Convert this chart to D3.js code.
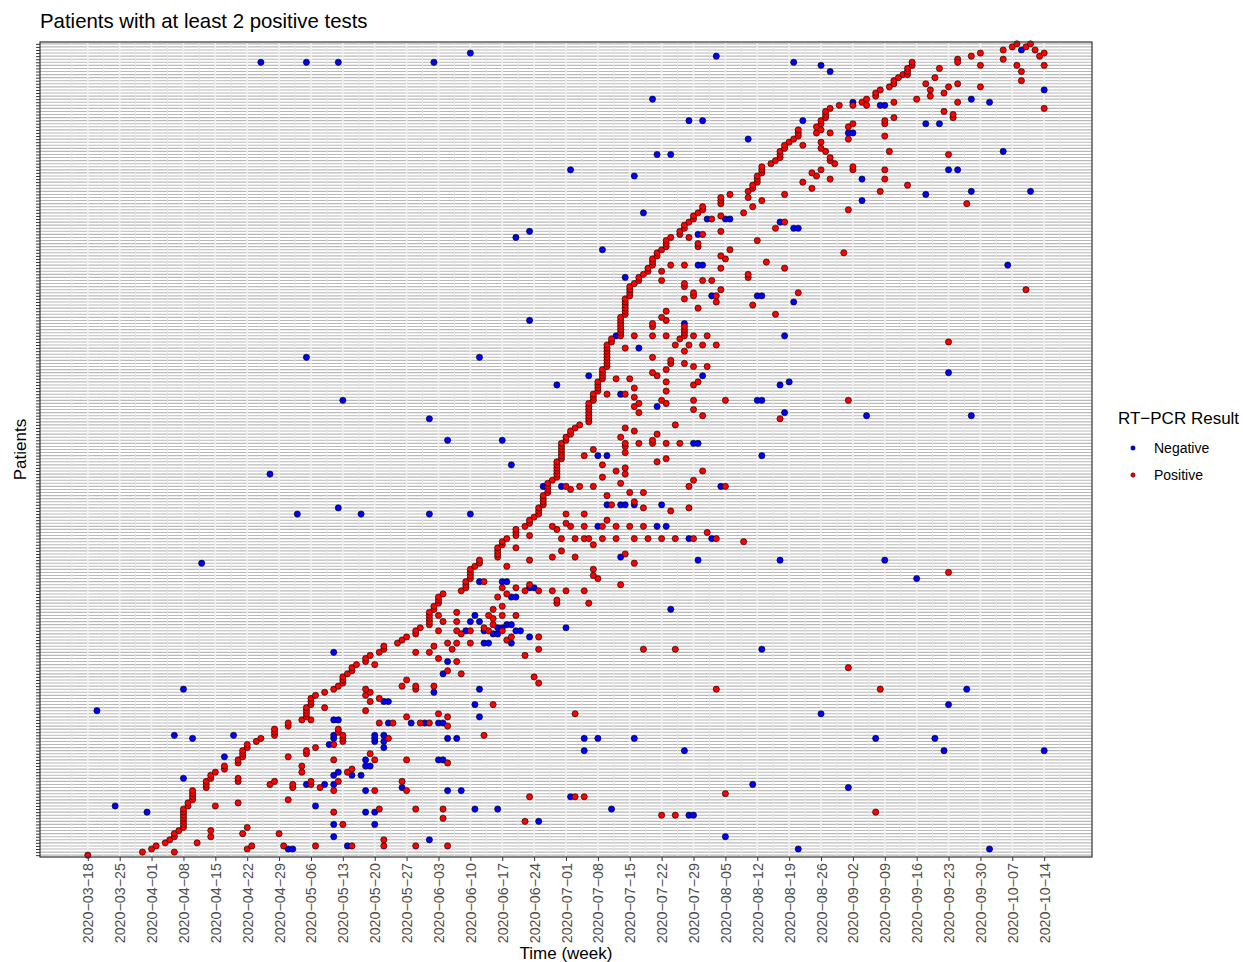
<!DOCTYPE html>
<html>
<head>
<meta charset="utf-8">
<script src="https://cdn.jsdelivr.net/npm/d3@7"></script>
<style>
  body { margin: 0; background: #fff; }
  text { font-family: "Liberation Sans", Arial, Helvetica, sans-serif; }
</style>
</head>
<body>
<div class="chart"></div>
<script>
// Data
// ==============================
// day offsets are counted from the first weekly tick (2020-03-18)
const startDate = "2020-03-18";
const weekTicks = ["2020-03-18", "2020-03-25", "2020-04-01", "2020-04-08", "2020-04-15", "2020-04-22",
  "2020-04-29", "2020-05-06", "2020-05-13", "2020-05-20", "2020-05-27", "2020-06-03", "2020-06-10",
  "2020-06-17", "2020-06-24", "2020-07-01", "2020-07-08", "2020-07-15", "2020-07-22", "2020-07-29",
  "2020-08-05", "2020-08-12", "2020-08-19", "2020-08-26", "2020-09-02", "2020-09-09", "2020-09-16",
  "2020-09-23", "2020-09-30", "2020-10-07", "2020-10-14"];
const patientCount = 265;
const resultLabels = ["Negative", "Positive"];

// [patient, day]
const positiveTests = [
  [0,0],[1,12],[1,19],[2,14],[2,35],[3,15],[3,36],[3,43],[3,50],[4,17],[4,24],[5,18],[6,19],[6,27],[7,19],[7,34],[7,42],[8,20],[8,27],[9,21],[9,35],[10,21],[11,21],[12,21],[13,21],[14,21],[14,54],[15,21],[16,22],[16,28],[17,22],[17,33],[18,23],[18,44],[19,23],[20,23],[21,23],[21,54],[22,26],[22,45],[22,51],[23,26],[23,40],[23,45],[23,49],[24,26],[24,33],[24,41],[24,49],[24,55],[25,27],[25,33],[26,27],[27,28],[27,47],[28,30],[29,30],[29,47],[30,33],[31,33],[31,54],[32,34],[32,44],[33,34],[33,48],[34,34],[34,48],[35,35],[35,50],[36,35],[36,54],[37,37],[38,38],[39,41],[40,41],[40,55],[41,41],[41,55],[42,44],[43,44],[44,47],[44,49],[45,48],[46,48],[47,48],[48,48],[48,52],[49,49],[50,49],[51,49],[52,50],[53,52],[54,54],[55,55],
  [3,58],[3,65],[3,72],[3,79],[5,65],[10,56],[11,96],[12,78],[15,64],[15,72],[15,78],[19,97],[19,107],[19,109],[21,63],[21,70],[24,69],[27,57],[28,58],[30,79],[31,63],[31,70],[33,62],[37,56],[38,56],[38,66],[39,56],[39,87],[42,79],[43,64],[43,67],[43,73],[43,75],[45,70],[45,79],[46,77],[46,107],[47,61],[49,89],[50,62],[51,64],[52,61],[53,62],[54,61],[54,72],[55,69],[55,72],[55,76],[56,56],[56,99],[57,56],[57,70],[58,56],[58,98],[59,57],[59,82],[60,58],[60,79],[61,58],[62,59],[62,63],[63,61],[63,81],[64,61],[64,77],[65,62],[65,96],[66,64],[66,72],[66,75],[67,65],[67,80],[67,99],[68,65],[68,76],[69,68],[69,79],[69,81],[69,84],[70,69],[70,92],[71,70],[71,93],[71,99],[72,72],[72,82],[73,72],[73,77],[73,81],[73,84],[73,88],[73,91],[74,73],[74,87],[75,75],[75,89],[76,75],[76,78],[76,81],[77,75],[77,89],[78,75],[78,77],[78,88],[78,91],[78,94],[79,75],[79,81],[80,76],[80,89],[81,76],[81,91],[82,77],[82,103],[82,110],[83,77],[83,103],[84,77],[84,90],[85,78],[85,92],[86,82],[86,96],[86,99],[86,102],[86,105],[86,109],[87,91],[87,94],
  [13,126],[13,129],[14,173],[20,140],[54,138],[54,174],[61,167],[67,122],[67,129],
  [87,83],[88,83],[89,83],[90,84],[91,84],[92,84],[93,84],[94,85],[95,86],[96,86],[97,90],[98,90],[99,90],[100,90],[101,91],[102,91],[103,92],[104,94],[105,94],[106,94],[107,96],[108,97],[109,97],[110,98],[111,99],[112,99],[113,99],[114,100],[115,100],[116,100],[117,100],[118,101],[119,101],[120,101],[121,101],[122,102],[123,103],[124,103],[125,103],[126,103],[127,103],[128,103],[129,104],[130,104],[131,104],[132,104],[133,104],[134,104],[135,105],[136,105],[137,106],[138,106],[139,107],[140,108],[141,110],[142,110],[143,110],[144,110],[145,110],[146,110],[147,110],[148,111],[149,111],[150,111],[151,112],[152,112],[153,112],[154,112],[155,113],[156,113],[157,113],[158,113],[159,114],[160,114],[161,114],[162,114],[163,114],[164,114],[165,114],[166,114],[167,115],[168,115],[169,117],[170,117],[171,117],[172,117],[173,117],[174,117],[175,117],
  [88,97],[88,117],[89,87],[90,112],[91,111],[93,111],[94,92],[95,120],[96,97],[97,102],[97,107],[98,118],[99,104],[100,94],[101,111],[103,104],[103,107],[103,109],[103,110],[103,113],[103,116],[103,120],[103,123],[103,126],[103,129],[103,133],[104,97],[106,103],[107,102],[107,106],[107,109],[107,113],[107,116],[107,119],[107,122],[108,105],[109,114],[111,105],[111,109],[112,128],[113,122],[113,132],[114,115],[115,120],[117,114],[118,119],[118,122],[119,106],[120,105],[120,108],[120,111],[120,132],[121,117],[122,133],[123,113],[124,118],[125,116],[126,118],[127,113],[128,125],[129,127],[130,109],[131,118],[132,111],[133,118],[134,118],[134,121],[134,124],[134,127],[134,130],[135,124],[136,117],[137,125],[138,120],[139,118],[140,129],[144,121],[145,133],[146,120],[147,121],[147,127],[148,126],[148,133],[149,120],[150,114],[150,118],[151,127],[152,120],[153,133],[154,127],[154,134],[155,116],[155,119],[156,125],[157,124],[158,127],[159,133],[160,128],[160,131],[161,128],[162,124],[164,131],[165,118],[166,129],[166,132],[168,130],[169,120],[169,124],[169,127],[169,131],[169,133],[170,131],[171,131],[172,124],[172,131],[173,124],[174,127],[175,126],
  [92,189],[102,144],[103,138],[105,136],[120,140],[125,135],[142,152],[143,135],[148,140],[148,167],[159,136],[166,135],[166,138],[167,189],[169,136],[176,151],
  [176,118],[177,118],[178,118],[179,118],[180,118],[181,118],[182,119],[183,119],[184,119],[185,119],[186,120],[187,121],[188,121],[189,122],[190,123],[191,123],[192,124],[193,124],[194,124],[195,125],[196,125],[197,126],[198,127],[199,127],[200,127],[201,128],[202,130],[203,130],[204,131],[205,131],[206,132],[207,133],[208,133],[209,134],[210,135],[211,135],[212,139],[213,139],[214,139],[215,141],[216,145],[217,146],[218,146],[219,147],[220,147],[221,147],[222,148],[223,148],[224,148],[225,150],[226,151],[227,152],[228,152],[229,152],[230,153],[231,153],[232,154],[233,155],[234,156],[235,156],[236,156],[237,160],[238,161],[239,161],[240,162],[241,162],[242,162],[243,163],[244,165],[245,170],[246,171],[247,173],[248,173],[249,174],
  [177,127],[178,134],[179,146],[180,138],[181,131],[182,133],[182,138],[183,133],[183,156],[184,139],[185,131],[186,131],[187,126],[187,135],[187,137],[188,145],[189,145],[190,126],[191,139],[191,153],[192,128],[192,131],[193,149],[194,140],[195,139],[196,166],[197,141],[198,134],[199,134],[200,147],[201,132],[202,135],[203,139],[204,151],[206,153],[207,137],[208,139],[209,144],[210,167],[211,146],[213,148],[214,145],[215,153],[216,174],[217,159],[219,157],[220,163],[221,160],[222,159],[223,161],[223,168],[224,168],[225,164],[226,163],[227,163],[229,162],[230,161],[231,157],[232,161],[233,167],[235,160],[235,163],[236,161],[237,167],[238,168],[244,168],[244,171],
  [250,176],[251,177],[252,177],[253,178],[254,179],[254,180],[255,180],[256,180],[257,181],[258,181],[259,191],[260,194],[261,196],[262,201],[263,203],[264,204],
  [184,206],[212,193],[218,180],[220,175],[223,175],[228,189],[229,176],[234,175],[238,175],[239,175],[240,177],[240,190],[241,190],[242,188],[243,210],[245,177],[245,191],[246,182],[247,185],[248,188],[249,185],[250,189],[250,196],[251,184],[251,191],[252,205],[253,186],[255,205],[256,187],[257,196],[257,204],[257,210],[258,191],[259,201],[260,209],[261,210],[262,208],[263,206],[264,207]
];

// [patient, day]
const negativeTests = [
  [2,44],[2,45],[6,54],[10,54],[14,13],[16,6],[16,50],[23,48],[23,52],[23,54],[25,21],[26,54],[27,55],[32,30],[36,53],[38,23],[38,54],[39,19],[39,32],[39,54],[44,54],[44,55],[47,2],[54,21],[66,54],
  [3,57],[5,75],[10,63],[11,99],[14,61],[14,63],[15,85],[15,90],[15,115],[19,106],[21,61],[21,79],[21,82],[22,69],[26,58],[26,60],[29,61],[29,62],[31,61],[31,77],[31,78],[34,109],[35,65],[37,63],[37,65],[38,63],[38,79],[38,81],[38,109],[38,112],[38,120],[39,63],[39,65],[43,66],[43,71],[43,74],[43,77],[43,78],[45,86],[49,85],[50,65],[50,66],[53,76],[54,86],[59,78],[63,79],[69,87],[69,88],[69,93],[71,97],[72,89],[72,90],[73,83],[73,87],[73,94],[73,95],[74,90],[74,91],[74,105],[75,92],[75,93],[76,84],[76,86],[78,85],[84,93],[84,94],[87,97],[87,98],
  [2,156],[6,140],[13,132],[13,133],[22,167],[23,146],[34,131],[38,173],[38,186],[46,161],[67,148],[80,128],
  [89,86],[89,91],[89,92],[96,134],[97,117],[103,132],[107,112],[107,125],[107,127],[111,75],[111,84],[114,114],[114,117],[114,118],[114,120],[114,126],[120,100],[120,104],[127,93],[130,112],[130,114],[134,133],[134,134],[135,79],[135,91],[142,75],[146,125],[150,117],[153,103],[156,110],[162,86],[165,121],[169,116],[173,131],[174,97],
  [90,182],[96,152],[96,175],[103,137],[120,139],[130,148],[143,171],[143,194],[144,153],[148,147],[148,148],[153,152],[154,154],[156,135],[157,189],[169,153],
  [180,155],[182,137],[182,147],[182,148],[188,118],[192,134],[192,135],[197,113],[202,134],[204,155],[204,156],[206,152],[207,136],[207,140],[207,141],[209,122],[213,170],[220,170],[221,120],[228,125],[228,128],[233,145],[235,167],[235,168],[239,132],[239,135],[239,157],[245,168],[246,124],[255,163],[257,161],[258,155],[260,138],
  [192,202],[215,184],[216,194],[216,207],[223,189],[223,191],[229,201],[238,184],[238,187],[244,174],[244,175],[245,198],[246,194],[249,210],[262,205],
  [2,198],[34,188],[34,210],[49,189],[54,193],[95,25],[111,46],[111,60],[113,55],[124,40],[148,56],[162,48],[201,94],[203,97],[223,106],[258,38],[258,48],[258,55],[258,76],[261,84]
];

// Chart
// ==============================
var svgWidth = 1243;
var svgHeight = 962;
var panel = { left: 40, top: 42, right: 1092, bottom: 857 };

var svg = d3.select(".chart")
  .append("svg")
  .attr("width", svgWidth)
  .attr("height", svgHeight);

var parseDate = d3.utcParse("%Y-%m-%d");
var formatDate = d3.utcFormat("%Y-%m-%d");
var start = parseDate(startDate);
var weekDates = weekTicks.map(parseDate);

var tests = negativeTests.map(d => ({ patient: d[0], date: d3.utcDay.offset(start, d[1]), result: "Negative" }))
  .concat(positiveTests.map(d => ({ patient: d[0], date: d3.utcDay.offset(start, d[1]), result: "Positive" })));

// scales: 5% expansion on the dates, 0.6 step on the discrete patients
var firstDay = weekDates[0], lastDay = weekDates[weekDates.length - 1];
var pad = (lastDay - firstDay) * 0.05;
var xScale = d3.scaleUtc()
  .domain([new Date(+firstDay - pad), new Date(+lastDay + pad)])
  .range([panel.left, panel.right]);

var yScale = d3.scalePoint()
  .domain(d3.range(patientCount))
  .range([panel.bottom, panel.top])
  .padding(0.6);

var colorScale = d3.scaleOrdinal()
  .domain(resultLabels)
  .range(["#0000ff", "#ff0000"]);

// grid
var grid = svg.append("g");
grid.append("rect")
  .attr("x", panel.left).attr("y", panel.top)
  .attr("width", panel.right - panel.left).attr("height", panel.bottom - panel.top)
  .attr("fill", "#fff");

var stepMs = weekDates[1] - weekDates[0];
var minorDates = [new Date(+firstDay - stepMs / 2)]
  .concat(weekDates.map(d => new Date(+d + stepMs / 2)));

grid.selectAll(".major-y").data(yScale.domain()).enter().append("line")
  .attr("x1", panel.left).attr("x2", panel.right)
  .attr("y1", d => yScale(d)).attr("y2", d => yScale(d))
  .attr("stroke", "#b9b9b9").attr("stroke-width", 1.1);

grid.selectAll(".minor-x").data(minorDates).enter().append("line")
  .attr("x1", d => xScale(d)).attr("x2", d => xScale(d))
  .attr("y1", panel.top).attr("y2", panel.bottom)
  .attr("stroke", "#e4e4e4").attr("stroke-width", 1);

grid.selectAll(".major-x").data(weekDates).enter().append("line")
  .attr("x1", d => xScale(d)).attr("x2", d => xScale(d))
  .attr("y1", panel.top).attr("y2", panel.bottom)
  .attr("stroke", "#f0f0f0").attr("stroke-width", 1.6);

// points
svg.append("g").selectAll("circle")
  .data(tests)
  .enter()
  .append("circle")
  .attr("cx", d => xScale(d.date))
  .attr("cy", d => yScale(d.patient))
  .attr("r", 3.1)
  .attr("fill", d => colorScale(d.result))
  .attr("stroke", "#000")
  .attr("stroke-width", 0.6);

// panel border
svg.append("rect")
  .attr("x", panel.left).attr("y", panel.top)
  .attr("width", panel.right - panel.left).attr("height", panel.bottom - panel.top)
  .attr("fill", "none").attr("stroke", "#333").attr("stroke-width", 1.2);

// axes
var bottomAxis = d3.axisBottom(xScale)
  .tickValues(weekDates)
  .tickFormat(d => formatDate(d).replace(/-/g, "\u2212"))
  .tickSize(4)
  .tickPadding(2);

var xAxis = svg.append("g")
  .attr("transform", `translate(0, ${panel.bottom})`)
  .call(bottomAxis);
xAxis.select(".domain").remove();
xAxis.selectAll(".tick line").attr("stroke", "#333");
xAxis.selectAll(".tick text")
  .attr("transform", "rotate(-90)")
  .attr("x", -6)
  .attr("y", 0)
  .attr("dy", "0.35em")
  .attr("text-anchor", "end")
  .attr("fill", "#4d4d4d")
  .style("font-size", "14.3px")
  .style("font-family", "'Liberation Sans', Arial, sans-serif");

var leftAxis = d3.axisLeft(yScale).tickSize(4).tickFormat("");
var yAxis = svg.append("g")
  .attr("transform", `translate(${panel.left}, 0)`)
  .call(leftAxis);
yAxis.select(".domain").remove();
yAxis.selectAll(".tick line").attr("stroke", "#333");

// titles
svg.append("text")
  .attr("x", panel.left)
  .attr("y", 28)
  .style("font-size", "20.4px")
  .attr("fill", "#000")
  .text("Patients with at least 2 positive tests");

svg.append("text")
  .attr("x", (panel.left + panel.right) / 2)
  .attr("y", 959)
  .attr("text-anchor", "middle")
  .style("font-size", "17px")
  .text("Time (week)");

svg.append("text")
  .attr("transform", `translate(26, ${(panel.top + panel.bottom) / 2}) rotate(-90)`)
  .attr("text-anchor", "middle")
  .style("font-size", "17px")
  .text("Patients");

// legend
var legend = svg.append("g").attr("transform", "translate(1118, 0)");
legend.append("text")
  .attr("x", 0).attr("y", 424)
  .style("font-size", "17px")
  .text("RT\u2212PCR Result");

var keys = legend.selectAll(".key").data(resultLabels).enter().append("g")
  .attr("transform", (d, i) => `translate(0, ${448 + i * 27})`);
keys.append("circle")
  .attr("cx", 15).attr("cy", 0).attr("r", 2.2)
  .attr("fill", d => colorScale(d))
  .attr("stroke", "#000").attr("stroke-width", 0.5);
keys.append("text")
  .attr("x", 36).attr("y", 5)
  .style("font-size", "14px")
  .text(d => d);
</script>
</body>
</html>
